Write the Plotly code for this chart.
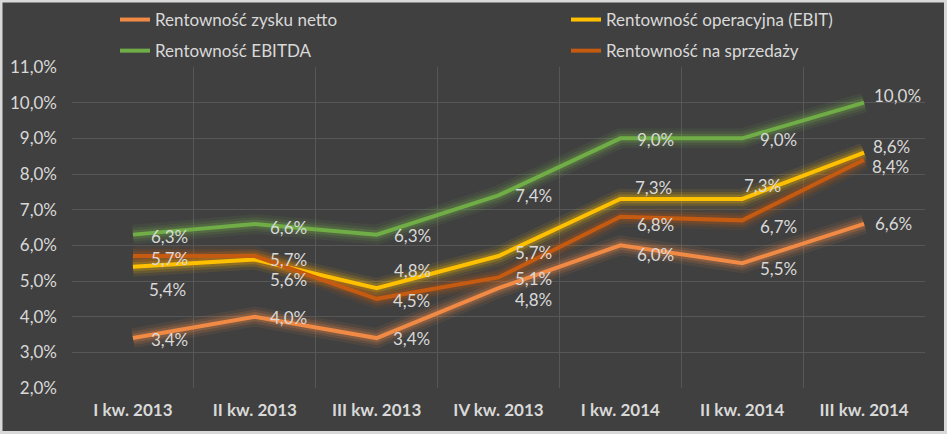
import plotly.graph_objects as go

categories = ["I kw. 2013", "II kw. 2013", "III kw. 2013", "IV kw. 2013",
              "I kw. 2014", "II kw. 2014", "III kw. 2014"]
netto = [3.4, 4.0, 3.4, 4.8, 6.0, 5.5, 6.6]
ebit = [5.4, 5.6, 4.8, 5.7, 7.3, 7.3, 8.6]
ebitda = [6.3, 6.6, 6.3, 7.4, 9.0, 9.0, 10.0]
sprzedaz = [5.7, 5.7, 4.5, 5.1, 6.8, 6.7, 8.4]

names = ["Rentowność zysku netto", "Rentowność operacyjna (EBIT)",
         "Rentowność EBITDA", "Rentowność na sprzedaży"]

# styles
colors = ["#F08A45", "#FFC000", "#70AD47", "#C55A11"]
glow_rgb = ["240,138,69", "255,192,0", "112,173,71", "197,90,17"]
legend_ids = ["legend", "legend2", "legend", "legend2"]
# label offsets (dx, dy) in px, dy downward
offsets = [
    [(37, 1), (34, 1), (35, 0), (35, 11), (35, 9), (36, 5), (29, 0)],
    [(35, 23), (34, 20), (36, -18), (35, -4), (33, -11), (20, -13), (27, -6)],
    [(37, 2), (34, 4), (36, 1), (35, 0), (35, 1), (36, 1), (33, -7)],
    [(37, 2), (34, 3), (35, 2), (35, 1), (35, 8), (36, 6), (26, 7)],
]

series = [netto, ebit, ebitda, sprzedaz]
FONT = "Lato"
TXT = "#D9D9D9"

fig = go.Figure()
# glow layers
for vals, rgb in zip(series, glow_rgb):
    for w, a in [(20, 0.08), (14, 0.14), (9, 0.22)]:
        fig.add_trace(go.Scatter(x=categories, y=vals, mode="lines",
                                 line=dict(color=f"rgba({rgb},{a})", width=w, shape="linear"),
                                 showlegend=False, hoverinfo="skip"))
# main lines
for i, (vals, name, col, lg) in enumerate(zip(series, names, colors, legend_ids)):
    fig.add_trace(go.Scatter(x=categories, y=vals, mode="lines", name=name,
                             line=dict(color=col, width=4),
                             legend=lg, legendgroup=f"g{i}"))

annotations = []
for vals, offs in zip(series, offsets):
    for c, v, (dx, dy) in zip(categories, vals, offs):
        annotations.append(dict(x=c, y=v, xref="x", yref="y",
                                text=f"{v:.1f}%".replace(".", ","),
                                showarrow=False, xshift=dx, yshift=-dy,
                                font=dict(family=FONT, size=17, color=TXT)))

W, H = 947, 434
L, R, T, B = 72, 22, 67, 46
pw, ph = W - L - R, H - T - B

def px_x(p):
    return (p - L) / pw

def px_y(p):
    return (H - B - p) / ph

fig.update_layout(
    width=W, height=H, autosize=False,
    margin=dict(l=L, r=R, t=T, b=B, autoexpand=False),
    paper_bgcolor="#404040", plot_bgcolor="#404040",
    separators=",.",
    font=dict(family=FONT, color=TXT),
    annotations=annotations,
    xaxis=dict(type="category", tickson="boundaries", showgrid=True,
               gridcolor="#575757", gridwidth=1, ticks="", showline=False,
               zeroline=False, range=[-0.5, 6.5],
               tickfont=dict(family=FONT, size=17, color=TXT, weight="bold"),
               ticklabelstandoff=10),
    yaxis=dict(range=[2, 11], dtick=1, tick0=2, tickformat=".1f", ticksuffix="%",
               showgrid=True, gridcolor="#575757", gridwidth=1, zeroline=False,
               showline=False, ticks="",
               tickfont=dict(family=FONT, size=17, color=TXT),
               ticklabelstandoff=14),
    legend=dict(x=px_x(115), y=px_y(2), xanchor="left", yanchor="top",
                orientation="v", tracegroupgap=6, bgcolor="rgba(0,0,0,0)",
                font=dict(family=FONT, size=17, color=TXT)),
    legend2=dict(x=px_x(566), y=px_y(2), xanchor="left", yanchor="top",
                 orientation="v", tracegroupgap=6, bgcolor="rgba(0,0,0,0)",
                 font=dict(family=FONT, size=17, color=TXT)),
    shapes=[dict(type="rect", xref="paper", yref="paper",
                 x0=px_x(1), x1=px_x(W - 1.5), y0=px_y(H - 1.5), y1=px_y(1),
                 line=dict(color="#D9D9D9", width=3), fillcolor="rgba(0,0,0,0)",
                 layer="above")],
    showlegend=True,
)

fig.write_html("out.html")
